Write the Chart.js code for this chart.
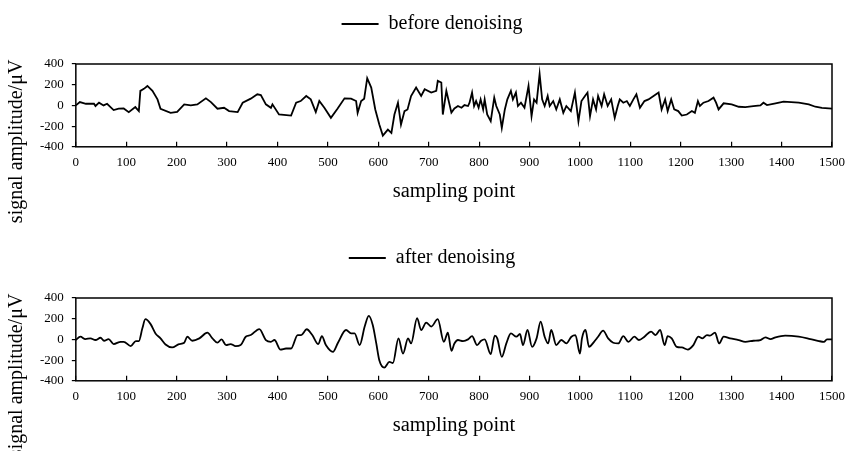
<!DOCTYPE html>
<html>
<head>
<meta charset="utf-8">
<script src="https://cdn.jsdelivr.net/npm/chart.js@4/dist/chart.umd.min.js"></script>
<style>
  html, body { margin: 0; padding: 0; background: #fff; overflow: hidden; }
  body { width: 848px; height: 451px; position: relative; }
  .box { position: absolute; left: 0; width: 848px; height: 234px; }
</style>
</head>
<body>
<div class="box" style="top:0"><canvas id="before"></canvas></div>
<div class="box" style="top:234px"><canvas id="after"></canvas></div>
<script>
// 采样点 / 幅值
const beforeX = [0,8,20,36,39,46,55,62,75,85,95,105,118,125,128,135,142,152,162,168,188,201,215,228,241,258,268,281,294,304,321,331,347,360,367,377,387,390,403,427,437,446,457,466,476,483,493,506,519,533,546,556,559,566,572,578,586,594,602,609,619,626,632,639,645,652,658,665,675,685,692,705,715,718,725,728,735,745,751,758,765,771,778,781,786,790,794,799,803,808,811,816,823,830,834,841,845,851,856,863,867,873,877,883,890,898,904,909,914,920,925,930,936,940,947,953,960,967,973,982,990,997,1003,1010,1015,1020,1026,1032,1036,1043,1048,1055,1062,1069,1075,1079,1086,1093,1099,1106,1112,1119,1128,1136,1146,1156,1162,1169,1174,1181,1187,1195,1202,1212,1222,1228,1234,1238,1245,1255,1265,1270,1275,1285,1301,1315,1328,1344,1358,1364,1371,1388,1404,1434,1454,1467,1480,1500];
const beforeY = [0,32,16,16,-6,26,0,16,-45,-32,-29,-65,-16,-55,140,160,188,140,58,-32,-72,-62,10,0,10,68,32,-32,-23,-55,-65,26,65,107,100,10,-23,10,-88,-98,26,42,91,58,-65,42,-23,-120,-32,68,65,42,-72,42,65,263,172,-39,-185,-292,-234,-266,-88,26,-185,-55,-39,91,172,91,156,124,140,237,221,-88,140,-70,-30,-6,-23,3,-6,26,124,-6,42,-23,58,-39,58,-88,-153,75,-6,-88,-218,-39,58,140,58,124,-6,26,-23,188,-104,58,26,302,58,-6,91,-6,42,-39,58,-72,-6,-55,124,-153,42,91,124,-104,58,-39,91,-6,107,-6,58,-120,-6,58,26,42,-6,58,107,-23,42,58,91,124,-39,58,-55,58,-39,-55,-98,-88,-55,-72,42,-6,26,42,75,26,-39,20,10,-13,-16,-6,0,26,3,20,36,26,10,-13,-23,-32];

const afterX = [0,9,19,29,39,49,56,65,75,89,95,109,119,125,132,138,148,158,168,178,191,205,215,221,231,245,261,271,281,289,298,307,317,327,337,347,364,377,387,394,406,417,427,440,447,458,469,481,488,496,510,520,536,546,553,563,573,581,589,596,602,612,622,629,640,649,659,665,677,685,695,705,718,730,738,745,751,758,768,778,786,796,804,811,823,831,836,845,854,863,874,881,887,896,905,914,922,930,937,943,953,963,973,983,991,1000,1004,1011,1018,1028,1036,1046,1056,1066,1076,1086,1096,1108,1117,1128,1141,1150,1159,1168,1174,1182,1192,1202,1214,1225,1235,1243,1252,1258,1268,1276,1285,1298,1315,1328,1344,1358,1368,1378,1388,1407,1434,1457,1474,1484,1490,1500];
const afterY = [-6,26,3,10,-6,16,-13,3,-45,-23,-23,-65,-16,-16,107,195,150,58,10,-49,-78,-45,-32,26,-13,10,65,10,-32,0,-55,-45,-65,-55,26,42,100,-6,-23,-6,-98,-88,-88,42,42,98,42,-45,32,-55,-120,-32,91,58,58,-55,124,228,140,-39,-202,-273,-218,-228,10,-137,10,-39,205,91,163,124,195,-23,65,-110,-40,-6,-16,0,32,-55,-13,0,-143,36,10,-169,-39,58,26,52,-55,91,-72,10,172,26,-39,91,-55,-6,-39,26,42,-137,10,91,-72,-23,26,85,10,-32,-39,32,-23,26,-6,26,75,42,91,-55,32,10,-72,-78,-98,-55,26,10,42,36,65,-39,26,10,-6,-23,-13,-6,20,3,20,36,26,3,-16,-23,0,0];

// 坐标轴范围
const xMin = 0, xMax = 1500, xStep = 100;
const yMin = -400, yMax = 400, yStep = 200;

const FONT = '"Liberation Serif", "Times New Roman", serif';

// 边框 + 纵轴标题
const framePlugin = {
    id: 'frame',
    beforeInit(chart) {
        // 图例下方留白
        const fit = chart.legend.fit;
        chart.legend.fit = function () {
            fit.bind(chart.legend)();
            this.height += 20;
        };
    },
    afterDraw(chart, args, opts) {
        const { ctx, chartArea: a } = chart;
        ctx.save();
        ctx.strokeStyle = '#000';
        ctx.lineWidth = 1.5;
        ctx.strokeRect(a.left, a.top, a.right - a.left, a.bottom - a.top);
        ctx.translate(17, (a.top + a.bottom) / 2 + 36);
        ctx.rotate(-Math.PI / 2);
        ctx.font = '20px ' + FONT;
        ctx.fillStyle = '#000';
        ctx.textAlign = 'center';
        ctx.textBaseline = 'middle';
        ctx.fillText(opts.text, 0, 0);
        ctx.restore();
    }
};

function makeChart(id, label, xs, ys, smooth) {
    const points = xs.map((x, i) => ({ x: x, y: ys[i] }));
    return new Chart(document.getElementById(id), {
        type: 'line',
        data: {
            datasets: [{
                label: label,
                data: points,
                borderColor: '#000',
                backgroundColor: '#000',
                borderWidth: 1.8,
                pointRadius: 0,
                tension: smooth ? 0.4 : 0,
                cubicInterpolationMode: smooth ? 'monotone' : 'default'
            }]
        },
        options: {
            responsive: true,
            maintainAspectRatio: false,
            animation: false,
            layout: { padding: { left: 32, right: 16, top: 4, bottom: 30 } },
            plugins: {
                tooltip: { enabled: false },
                frame: { text: 'signal amplitude/μV' },
                legend: {
                    position: 'top',
                    labels: {
                        usePointStyle: true,
                        pointStyle: 'line',
                        pointStyleWidth: 37,
                        color: '#000',
                        padding: 10,
                        font: { family: FONT, size: 20 }
                    }
                }
            },
            scales: {
                x: {
                    type: 'linear',
                    min: xMin,
                    max: xMax,
                    border: { display: false },
                    grid: { drawOnChartArea: false, tickLength: -5, color: '#000', lineWidth: 1.2 },
                    afterFit(s) { s.paddingLeft = 0; s.paddingRight = 0; },
                    ticks: {
                        stepSize: xStep,
                        maxRotation: 0,
                        padding: 13,
                        color: '#000',
                        font: { family: FONT, size: 13 },
                        callback: v => String(v)
                    },
                    title: {
                        display: true,
                        text: 'sampling point',
                        color: '#000',
                        padding: { top: -4, bottom: 0 },
                        font: { family: FONT, size: 20.5 }
                    }
                },
                y: {
                    min: yMin,
                    max: yMax,
                    border: { display: false },
                    grid: { drawOnChartArea: false, tickLength: 4, color: '#000', lineWidth: 1.2 },
                    ticks: {
                        stepSize: yStep,
                        padding: 8,
                        color: '#000',
                        font: { family: FONT, size: 13 },
                        callback: v => String(v)
                    }
                }
            }
        },
        plugins: [framePlugin]
    });
}

makeChart('before', 'before denoising', beforeX, beforeY, false);
makeChart('after', 'after denoising', afterX, afterY, true);
</script>
</body>
</html>
